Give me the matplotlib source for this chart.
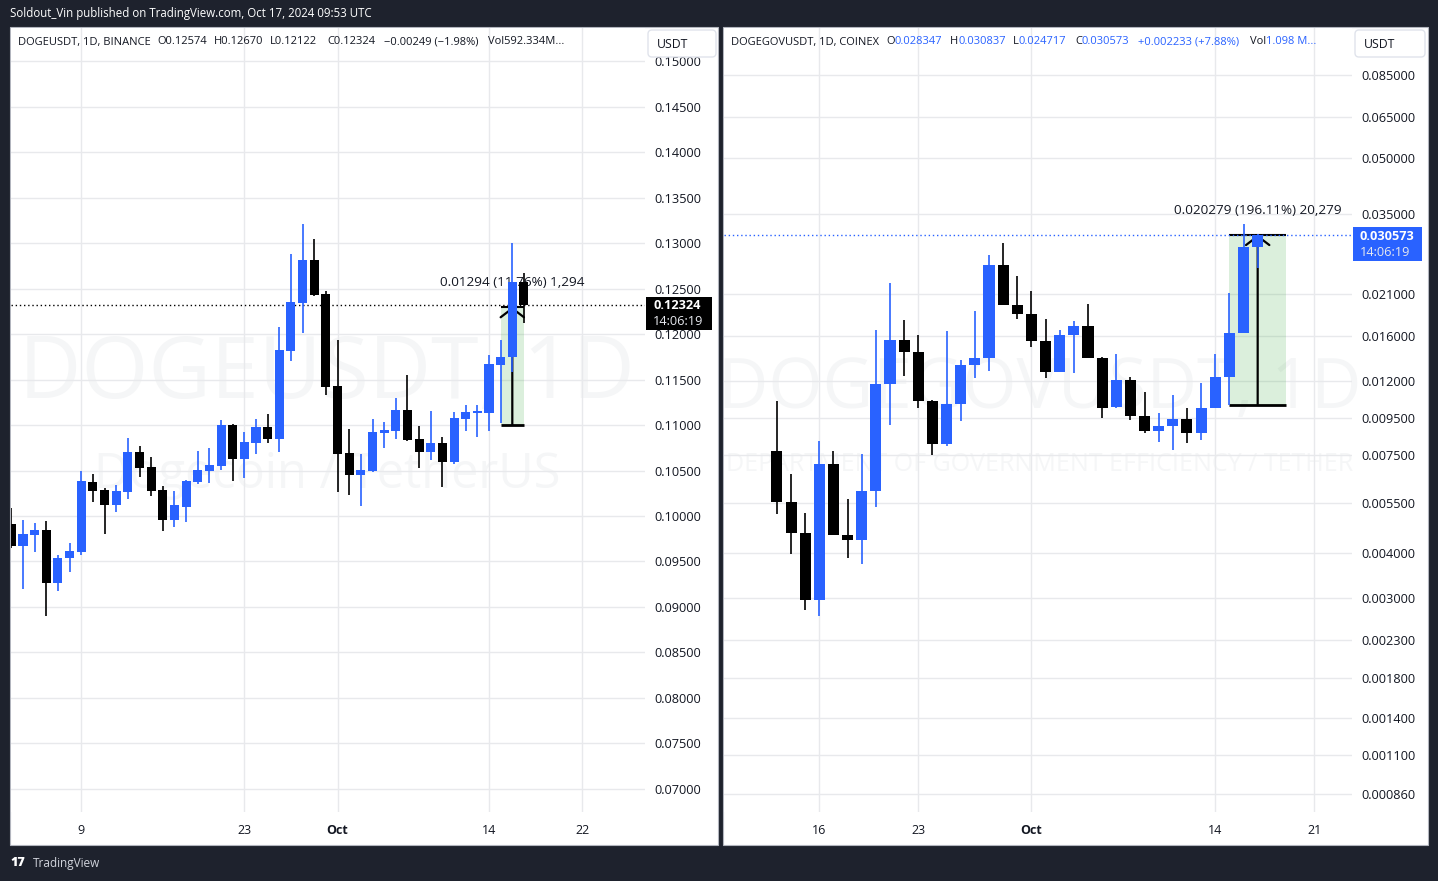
import matplotlib
matplotlib.use("Agg")
import matplotlib.pyplot as plt
import matplotlib.dates as mdates
import matplotlib.transforms as mtransforms
from matplotlib.patches import Rectangle, FancyBboxPatch
from matplotlib.ticker import FixedLocator, FixedFormatter, NullLocator
import numpy as np
import pandas as pd

W, H = 1438, 881
BLUE = "#2962ff"
BLACK = "#000000"
TEXT = "#131722"
GRID = "#e8e9ec"
DARK_BG = "#1e222d"
WATERMARK = "#f5f6f7"

plt.rcParams["font.family"] = ["Open Sans", "DejaVu Sans"]

# ---------------- DOGEUSDT, 1D, BINANCE ----------------
doge_dates = pd.date_range("2024-09-03", "2024-10-17", freq="D")
doge_open = [0.09912, 0.09674, 0.09795, 0.09846, 0.09260, 0.09542, 0.09608, 0.10374, 0.10286, 0.10124,
             0.10267, 0.10703, 0.10538, 0.10286, 0.09959, 0.10102, 0.10377, 0.10498, 0.10553, 0.11000,
             0.10630, 0.10805, 0.10978, 0.10849, 0.11816, 0.12344, 0.12813, 0.12440, 0.11429, 0.10692,
             0.10454, 0.10498, 0.10915, 0.10937, 0.11165, 0.10846, 0.10707, 0.10802, 0.10597, 0.11070,
             0.11135, 0.11135, 0.11663, 0.11744, 0.12574]
doge_high = [0.10091, 0.09956, 0.09923, 0.09945, 0.09571, 0.09707, 0.10498, 0.10462, 0.10311, 0.10341,
             0.10857, 0.10766, 0.10648, 0.10330, 0.10275, 0.10396, 0.10714, 0.10747, 0.11055, 0.11010,
             0.10923, 0.11066, 0.11121, 0.12077, 0.12879, 0.13209, 0.13044, 0.12473, 0.11934, 0.10956,
             0.10681, 0.11066, 0.11033, 0.11297, 0.11553, 0.10989, 0.11154, 0.10868, 0.11143, 0.11220,
             0.11220, 0.11769, 0.11934, 0.12997, 0.12670]
doge_low = [0.09652, 0.09195, 0.09608, 0.08904, 0.09179, 0.09388, 0.09571, 0.10157, 0.09799, 0.10047,
            0.10190, 0.10432, 0.10223, 0.09838, 0.09882, 0.09937, 0.10355, 0.10366, 0.10509, 0.10388,
            0.10421, 0.10685, 0.10805, 0.10707, 0.11707, 0.12014, 0.12420, 0.11333, 0.10267, 0.10234,
            0.10113, 0.10487, 0.10750, 0.10849, 0.10827, 0.10531, 0.10619, 0.10322, 0.10575, 0.10937,
            0.10871, 0.10937, 0.11019, 0.11586, 0.12122]
doge_close = [0.09674, 0.09802, 0.09846, 0.09260, 0.09538, 0.09615, 0.10385, 0.10278, 0.10124, 0.10275,
              0.10703, 0.10531, 0.10278, 0.09959, 0.10121, 0.10385, 0.10505, 0.10560, 0.11000, 0.10630,
              0.10813, 0.10978, 0.10849, 0.11824, 0.12352, 0.12813, 0.12432, 0.11421, 0.10685, 0.10454,
              0.10505, 0.10923, 0.10945, 0.11165, 0.10838, 0.10707, 0.10802, 0.10597, 0.11077, 0.11143,
              0.11150, 0.11670, 0.11747, 0.12574, 0.12324]
doge_last = 0.12324
doge_xticks = ["2024-09-09", "2024-09-23", "2024-10-01", "2024-10-14", "2024-10-22"]
doge_xlabels = ["9", "23", "Oct", "14", "22"]
doge_yticks = [0.07000, 0.07500, 0.08000, 0.08500, 0.09000, 0.09500, 0.10000, 0.10500, 0.11000,
               0.11500, 0.12000, 0.12500, 0.13000, 0.13500, 0.14000, 0.14500, 0.15000]
doge_range_dates = ["2024-10-15", "2024-10-17"]
doge_range_prices = [0.11003, 0.12297]
doge_range_label = "0.01294 (11.76%) 1,294"

# ---------------- DOGEGOVUSDT, 1D, COINEX ----------------
dgov_dates = pd.date_range("2024-09-13", "2024-10-17", freq="D")
dgov_open = [0.007692, 0.005565, 0.004565, 0.002976, 0.007080, 0.004507, 0.004365, 0.005970, 0.011803,
             0.015637, 0.014504, 0.010609, 0.008059, 0.010388, 0.013328, 0.013938, 0.025248, 0.019594,
             0.018499, 0.015567, 0.012770, 0.016143, 0.017099, 0.013964, 0.010210, 0.012109, 0.009640,
             0.008758, 0.009026, 0.009439, 0.008647, 0.010126, 0.012344, 0.016349, 0.028347]
dgov_high = [0.010589, 0.006642, 0.005186, 0.008218, 0.007707, 0.005662, 0.007546, 0.016665, 0.022502,
             0.017767, 0.016143, 0.010650, 0.016559, 0.013761, 0.018821, 0.026911, 0.029055, 0.023531,
             0.021380, 0.017883, 0.016665, 0.017655, 0.019679, 0.014020, 0.014296, 0.012344, 0.011236,
             0.009826, 0.011024, 0.010106, 0.011902, 0.014296, 0.021108, 0.032813, 0.030837]
dgov_low = [0.005153, 0.003985, 0.002791, 0.002686, 0.004490, 0.003891, 0.003745, 0.005390, 0.009101,
            0.012446, 0.010145, 0.007513, 0.007960, 0.009337, 0.012288, 0.012852, 0.019500, 0.017917,
            0.014981, 0.012288, 0.012700, 0.012689, 0.013900, 0.009517, 0.010150, 0.009396, 0.008614,
            0.008166, 0.007742, 0.008114, 0.008271, 0.010100, 0.010341, 0.016300, 0.024717]
dgov_close = [0.005565, 0.004565, 0.002976, 0.007080, 0.004507, 0.004365, 0.005970, 0.011803, 0.015637,
              0.014504, 0.010609, 0.008059, 0.010388, 0.013328, 0.013938, 0.025248, 0.019594, 0.018499,
              0.015567, 0.012770, 0.016143, 0.017099, 0.013964, 0.010145, 0.012109, 0.009640, 0.008758,
              0.009026, 0.009439, 0.008647, 0.010126, 0.012344, 0.016349, 0.028347, 0.030573]
dgov_last = 0.030573
dgov_xticks = ["2024-09-16", "2024-09-23", "2024-10-01", "2024-10-14", "2024-10-21"]
dgov_xlabels = ["16", "23", "Oct", "14", "21"]
dgov_yticks = [0.00086, 0.0011, 0.0014, 0.0018, 0.0023, 0.003, 0.004, 0.0055, 0.0075, 0.0095,
               0.012, 0.016, 0.021, 0.035, 0.05, 0.065, 0.085]
dgov_range_dates = ["2024-10-15", "2024-10-19"]
dgov_range_prices = [0.010341, 0.030620]
dgov_range_label = "0.020279 (196.11%) 20,279"


def day_num(values):
    return mdates.date2num(pd.to_datetime(values).to_pydatetime())


fig = plt.figure(figsize=(W / 100, H / 100), dpi=100, facecolor=DARK_BG)
# image-pixel coordinates (origin top-left)
PX = mtransforms.Affine2D().scale(1 / W, -1 / H).translate(0, 1) + fig.transFigure
renderer = fig.canvas.get_renderer()


def px_axes(x0, y0, x1, y1):
    return fig.add_axes([x0 / W, 1 - y1 / H, (x1 - x0) / W, (y1 - y0) / H])


def to_px(ax, x, y):
    return PX.inverted().transform(ax.transData.transform((x, y)))


def draw_candles(ax, dates, o, h, l, c, width=0.78):
    x = day_num(dates)
    o, h, l, c = (np.asarray(v) for v in (o, h, l, c))
    colors = np.where(c >= o, BLUE, BLACK)
    ax.vlines(x, l, h, colors=colors, linewidth=1.2, zorder=3)
    ax.bar(x, np.abs(c - o), width, bottom=np.minimum(o, c), color=colors, linewidth=0, zorder=4)


def style_axes(ax, xticks, xlabels, yticks, ylabels):
    ax.set_facecolor("white")
    for s in ax.spines.values():
        s.set_visible(False)
    ax.xaxis.set_major_locator(FixedLocator(day_num(xticks)))
    ax.xaxis.set_major_formatter(FixedFormatter(xlabels))
    ax.yaxis.set_major_locator(FixedLocator(yticks))
    ax.yaxis.set_major_formatter(FixedFormatter(ylabels))
    ax.yaxis.set_minor_locator(NullLocator())
    ax.xaxis.set_minor_locator(NullLocator())
    ax.tick_params(axis="y", left=False, labelleft=False, right=False, labelright=True,
                   length=0, pad=7, labelsize=9.2, labelcolor=TEXT)
    ax.tick_params(axis="x", length=0, pad=8.5, labelsize=9, labelcolor=TEXT)
    for t in ax.get_xticklabels():
        if t.get_text() == "Oct":
            t.set_fontweight("bold")
    ax.set_axisbelow(True)
    ax.grid(True, color=GRID, linewidth=1)


def draw_range(ax, dates, prices, label):
    x0, x1 = day_num(dates)
    xm = (x0 + x1) / 2
    lo, hi = prices
    ax.fill_between([x0, x1], lo, hi, color="#4caf50", alpha=0.2, linewidth=0, zorder=2)
    ax.hlines(hi, x0, x1, color=BLACK, linewidth=1.5, zorder=2.6)
    ax.hlines(lo, x0, x1, color=BLACK, linewidth=2, zorder=2.6)
    ax.annotate("", xy=(xm, hi), xytext=(xm, lo), zorder=2.6,
                arrowprops=dict(arrowstyle="->,head_length=0.32,head_width=0.42", color=BLACK,
                                lw=1.6, shrinkA=0, shrinkB=0, mutation_scale=20))
    ax.annotate(label, xy=(xm, hi), xytext=(0, 17.5), textcoords="offset points",
                ha="center", va="center", fontsize=9.7, color=TEXT, zorder=2.5)


def price_tag(ax, price, x0, x1, bg, value, timer):
    _, y = to_px(ax, ax.get_xlim()[1], price)
    fig.add_artist(Rectangle((x0, y - 8), x1 - x0, 33.5, transform=PX, facecolor=bg,
                             edgecolor="none", zorder=10))
    fig.text(x0 + 7, y + 1, value, transform=PX, color="white", fontsize=9.2,
             fontweight="bold", va="center", ha="left", zorder=11)
    fig.text(x0 + 7, y + 17, timer, transform=PX, color="#e6e8ee", fontsize=9.2,
             va="center", ha="left", zorder=11)


def draw_pieces(x, y, pieces, size=8):
    for text, color in pieces:
        t = fig.text(x, y, text, transform=PX, color=color, fontsize=size,
                     va="center", ha="left", zorder=12)
        x += t.get_window_extent(renderer=renderer).width


def usdt_button(x, y, w):
    fig.add_artist(FancyBboxPatch((x, y), w, 27, boxstyle="round,pad=0,rounding_size=4",
                                  transform=PX, facecolor="white", edgecolor="#e0e3eb",
                                  linewidth=1, zorder=11))
    fig.text(x + 9, y + 14, "USDT", transform=PX, color=TEXT, fontsize=8.8,
             va="center", ha="left", zorder=12)


# panels
for x0, x1 in [(10, 718), (723, 1428)]:
    fig.add_artist(Rectangle((x0, 27), x1 - x0, 818, transform=PX, facecolor="white",
                             edgecolor="#b2b5be", linewidth=0.8, zorder=-5))

# ---- left chart
ax1 = px_axes(11, 28, 645, 812)
draw_candles(ax1, doge_dates, doge_open, doge_high, doge_low, doge_close)
x_first, x_last = day_num([doge_dates[0], doge_dates[-1]])
ax1.set_xlim(x_first - 0.03, x_last + 10.39)
ax1.set_ylim(0.06747, 0.15363)
style_axes(ax1, doge_xticks, doge_xlabels, doge_yticks, [f"{v:.5f}" for v in doge_yticks])
ax1.text(0.498, 0.557, "DOGEUSDT, 1D", transform=ax1.transAxes, fontsize=62,
         color=WATERMARK, ha="center", va="center", zorder=0.4)
ax1.text(0.498, 0.43, "Dogecoin / TetherUS", transform=ax1.transAxes, fontsize=35,
         color=WATERMARK, ha="center", va="center", zorder=0.4)
ax1.axhline(doge_last, color=BLACK, linewidth=1, linestyle=(0, (1, 2)), zorder=2.8)
draw_range(ax1, doge_range_dates, doge_range_prices, doge_range_label)

# ---- right chart
ax2 = px_axes(724, 28, 1352, 812)
ax2.set_yscale("log")
draw_candles(ax2, dgov_dates, dgov_open, dgov_high, dgov_low, dgov_close)
x_first, x_last = day_num([dgov_dates[0], dgov_dates[-1]])
ax2.set_xlim(x_first - 3.74, x_last + 6.67)
ax2.set_ylim(0.000766, 0.11475)
style_axes(ax2, dgov_xticks, dgov_xlabels, dgov_yticks, [f"{v:.6f}" for v in dgov_yticks])
ax2.yaxis.set_minor_formatter(FixedFormatter([]))
ax2.text(0.503, 0.538, "DOGEGOVUSDT, 1D", transform=ax2.transAxes, fontsize=50,
         color=WATERMARK, ha="center", va="center", zorder=0.4)
ax2.text(0.503, 0.443, "DEPARTMENT OF GOVERNMENT EFFICIENCY / TETHER", transform=ax2.transAxes,
         fontsize=18, color=WATERMARK, ha="center", va="center", zorder=0.4)
ax2.axhline(dgov_last, color=BLUE, linewidth=1, linestyle=(0, (1, 2)), zorder=2.8)
draw_range(ax2, dgov_range_dates, dgov_range_prices, dgov_range_label)

# price tags on the scales
price_tag(ax1, doge_last, 646, 712, BLACK, f"{doge_last:.5f}", "14:06:19")
price_tag(ax2, dgov_last, 1353, 1422, BLUE, f"{dgov_last:.6f}", "14:06:19")

# legends
draw_pieces(18, 42, [("DOGEUSDT, 1D, BINANCE", TEXT)])
for x, s in [(157, "O0.12574"), (214, "H0.12670"), (270, "L0.12122"), (327, "C0.12324"),
             (384, "\u22120.00249 (\u22121.98%)"), (488, "Vol592.334M...")]:
    draw_pieces(x, 42, [(s, TEXT)])
draw_pieces(731, 42, [("DOGEGOVUSDT, 1D, COINEX", TEXT)])
for x, k, v in [(886, "O", "0.028347"), (950, "H", "0.030837"), (1013, "L", "0.024717"),
                (1075, "C", "0.030573"), (1138, "", "+0.002233 (+7.88%)"), (1250, "Vol", "1.098 M...")]:
    draw_pieces(x, 42, [(k, TEXT), (v, BLUE)])

usdt_button(648, 30, 68)
usdt_button(1355, 30, 70)

# header / footer
fig.text(10, 14, "Soldout_Vin published on TradingView.com, Oct 17, 2024 09:53 UTC", transform=PX,
         color="white", fontsize=8.3, va="center", ha="left")
fig.text(10, 863, "17", transform=PX, color="white", fontsize=9, fontweight="heavy",
         va="center", ha="left")
fig.text(33, 863, "TradingView", transform=PX, color="#d1d4dc", fontsize=8.5,
         va="center", ha="left")

fig.savefig("out.png", dpi=100, facecolor=DARK_BG)
